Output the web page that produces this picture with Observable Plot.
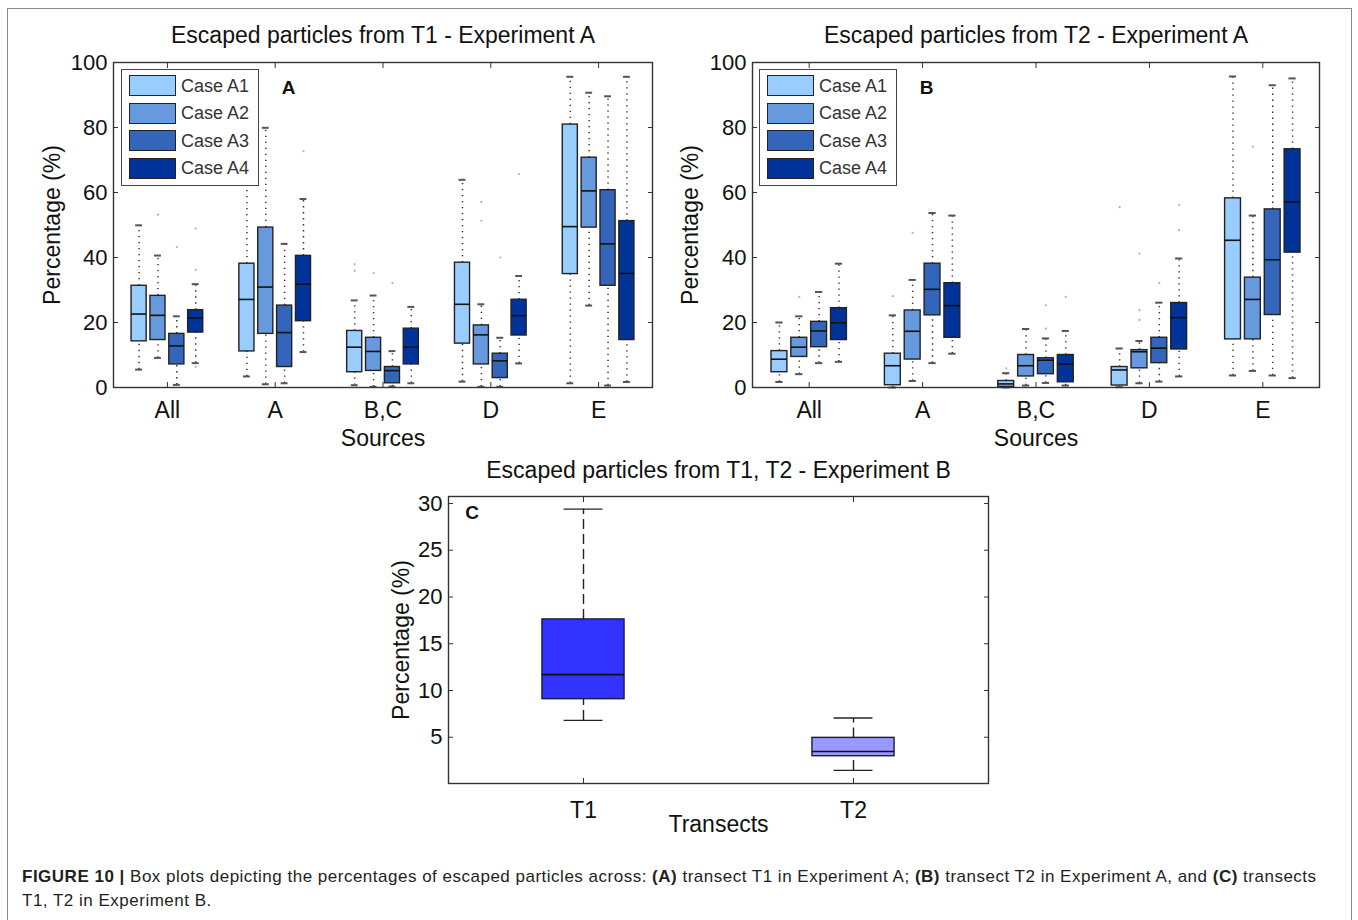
<!DOCTYPE html>
<html>
<head>
<meta charset="utf-8">
<script src="https://cdn.jsdelivr.net/npm/d3@7"></script>
<script src="https://cdn.jsdelivr.net/npm/@observablehq/plot@0.6"></script>
<style>
  body { margin: 0; background: #fff; }
  #page { position: relative; width: 1358px; height: 920px; overflow: hidden;
          font-family: "Liberation Sans", Arial, Helvetica, sans-serif; color: #111; }
  .panel { position: absolute; }
  .title { position: absolute; font-size: 23px; line-height: 23px; white-space: nowrap; transform: translate(-50%, -50%); }
  .letter { position: absolute; font-size: 19px; line-height: 19px; font-weight: bold; transform: translate(-50%, -50%); }
  .legend { position: absolute; box-sizing: border-box; width: 138px; height: 117px; border: 1.5px solid #444; background: #fff; }
  .legend .sw { position: absolute; left: 7px; width: 47px; height: 21px; box-sizing: border-box; border: 1.4px solid #222; }
  .legend .lb { position: absolute; left: 59px; font-size: 18px; line-height: 21px; color: #333; white-space: nowrap; }
  #border { position: absolute; left: 7px; top: 8px; width: 1343px; height: 1000px; border: 1px solid #8a8a8a; }
  #caption { position: absolute; left: 22px; top: 865px; width: 1330px; font-size: 17px; letter-spacing: 0.5px; line-height: 24px; color: #231f20; white-space: nowrap; }
</style>
</head>
<body>
<div id="page">
  <div id="border"></div>
  <div id="panelA" class="panel" style="left:0px; top:50px;"></div>
  <div id="panelB" class="panel" style="left:700px; top:50px;"></div>
  <div id="panelC" class="panel" style="left:380px; top:450px;"></div>
</div>
<script>
// ---------- categories ----------
const groups = ["All", "A", "B,C", "D", "E"];
const cases = ["Case A1", "Case A2", "Case A3", "Case A4"];
const caseColors = ["#99ccff", "#6699dd", "#3366bb", "#003399"];
const yTicksAB = [0, 20, 40, 60, 80, 100];

// ---------- Panel A: escaped particles from T1 (rows = cases, cols = groups) ----------
const t1Low    = [[5.5, 3.4, 0.7, 1.8, 1.3], [9.1, 1.0, 0.2, 0.2, 25.2], [0.8, 1.3, 0.3, 0.2, 0.6], [7.5, 10.9, 1.3, 7.4, 1.7]];
const t1Q1     = [[14.2, 11.1, 4.7, 13.5, 34.9], [14.6, 16.5, 5.1, 7.1, 49.2], [7.1, 6.3, 1.3, 2.9, 31.3], [16.9, 20.4, 7.1, 16.0, 14.6]];
const t1Median = [[22.6, 27.1, 12.4, 25.6, 49.5], [22.2, 30.9, 11.1, 16.2, 60.5], [12.8, 16.9, 5.2, 8.2, 44.2], [21.4, 31.8, 12.4, 22.1, 35.1]];
const t1Q3     = [[31.3, 38.1, 17.4, 38.4, 80.9], [28.2, 49.2, 15.3, 19.1, 70.7], [16.5, 25.2, 6.3, 10.4, 60.7], [23.8, 40.5, 18.1, 27.0, 51.2]];
const t1High   = [[49.9, 70.0, 26.8, 63.9, 95.6], [40.6, 79.9, 28.3, 25.6, 90.7], [21.9, 44.2, 11.2, 15.3, 89.6], [31.8, 58.0, 24.8, 34.3, 95.6]];
const t1Outliers = [
  {group: "All", case: "Case A2", value: 53.2}, {group: "All", case: "Case A3", value: 43.2},
  {group: "All", case: "Case A4", value: 48.9}, {group: "All", case: "Case A4", value: 36.2},
  {group: "All", case: "Case A4", value: 6.4},
  {group: "A", case: "Case A4", value: 72.7},
  {group: "B,C", case: "Case A1", value: 37.9}, {group: "B,C", case: "Case A1", value: 35.9},
  {group: "B,C", case: "Case A2", value: 35.2}, {group: "B,C", case: "Case A3", value: 32.2},
  {group: "D", case: "Case A2", value: 57.1}, {group: "D", case: "Case A2", value: 51.3},
  {group: "D", case: "Case A3", value: 40.0}, {group: "D", case: "Case A4", value: 65.7}
];

// ---------- Panel B: escaped particles from T2 ----------
const t2Low    = [[1.7, 0.0, 0.0, 0.1, 3.7], [4.1, 2.0, 0.6, 1.3, 5.1], [7.5, 7.5, 1.4, 1.8, 3.7], [7.9, 10.4, 0.6, 3.4, 2.9]];
const t2Q1     = [[4.7, 0.7, 0.2, 0.6, 14.8], [9.4, 8.6, 3.4, 5.9, 14.8], [12.4, 22.2, 4.1, 7.5, 22.3], [14.6, 15.3, 1.6, 11.7, 41.5]];
const t2Median = [[8.7, 6.7, 1.1, 5.4, 45.3], [12.4, 17.3, 6.7, 11.0, 27.1], [17.4, 30.2, 8.4, 12.1, 39.3], [19.9, 25.2, 7.2, 21.5, 57.1]];
const t2Q3     = [[11.2, 10.4, 2.0, 6.3, 58.2], [15.3, 23.7, 10.0, 11.5, 33.8], [20.2, 38.1, 9.0, 15.3, 54.8], [24.4, 32.1, 10.0, 26.0, 73.3]];
const t2High   = [[20.0, 22.2, 4.4, 12.0, 95.7], [21.9, 33.1, 18.0, 14.3, 52.9], [29.4, 53.7, 15.1, 26.1, 93.0], [38.1, 52.9, 17.4, 39.7, 95.1]];
const t2Outliers = [
  {group: "All", case: "Case A2", value: 27.9},
  {group: "A", case: "Case A1", value: 28.1}, {group: "A", case: "Case A2", value: 47.6},
  {group: "B,C", case: "Case A1", value: 5.9}, {group: "B,C", case: "Case A3", value: 25.3},
  {group: "B,C", case: "Case A3", value: 18.1}, {group: "B,C", case: "Case A4", value: 27.9},
  {group: "D", case: "Case A1", value: 55.5}, {group: "D", case: "Case A2", value: 41.2},
  {group: "D", case: "Case A2", value: 23.8}, {group: "D", case: "Case A2", value: 20.8},
  {group: "D", case: "Case A3", value: 32.2}, {group: "D", case: "Case A4", value: 56.2},
  {group: "D", case: "Case A4", value: 48.4},
  {group: "E", case: "Case A2", value: 74.1}
];

// ---------- Panel C: T1, T2 in Experiment B ----------
const transects = ["T1", "T2"];
const transectColors = ["#3333ff", "#9999ff"];
const tLow = [6.8, 1.45];
const tQ1 = [9.07, 2.97];
const tMedian = [11.7, 3.48];
const tQ3 = [17.6, 4.93];
const tHigh = [29.4, 7.06];
const yTicksC = [5, 10, 15, 20, 25, 30];

// ---------- helpers ----------
const FONT = '"Liberation Sans", Arial, Helvetica, sans-serif';
const STEP = 0.175, HALF = 0.07, CAP = 0.032;
const slot = (g, c) => groups.indexOf(g) + 1 + (cases.indexOf(c) - 1.5) * STEP;

function buildRows(low, q1, med, q3, high) {
  const rows = [];
  cases.forEach((c, i) => groups.forEach((g, j) => {
    rows.push({case: c, group: g, x: slot(g, c), low: low[i][j], q1: q1[i][j], med: med[i][j], q3: q3[i][j], high: high[i][j]});
  }));
  return rows;
}

function boxPanel(rows, outliers, {width, marginLeft, marginRight, yLabelDx}) {
  const tickOpts = {tickSize: -5, label: null, stroke: "#333"};
  return Plot.plot({
    width, height: 410, marginLeft, marginRight, marginTop: 12, marginBottom: 73,
    x: {type: "linear", domain: [0.5, 5.5]},
    y: {type: "linear", domain: [0, 100]},
    color: {domain: cases, range: caseColors},
    style: {fontFamily: FONT, fontSize: "22px", color: "#111", background: "none", overflow: "visible"},
    marks: [
      Plot.ruleX(rows, {x: "x", y1: "q3", y2: "high", stroke: "#333", strokeWidth: 1.5, strokeDasharray: "1.3,4.7"}),
      Plot.ruleX(rows, {x: "x", y1: "low", y2: "q1", stroke: "#333", strokeWidth: 1.5, strokeDasharray: "1.3,4.7"}),
      Plot.ruleY(rows, {y: "high", x1: d => d.x - CAP, x2: d => d.x + CAP, stroke: "#555", strokeWidth: 2}),
      Plot.ruleY(rows, {y: "low", x1: d => d.x - CAP, x2: d => d.x + CAP, stroke: "#555", strokeWidth: 2}),
      Plot.dot(outliers, {x: d => slot(d.group, d.case), y: "value", r: 1.1, fill: "#b0b0b0", stroke: null}),
      Plot.rect(rows, {x1: d => d.x - HALF, x2: d => d.x + HALF, y1: "q1", y2: "q3", fill: "case", stroke: "#222", strokeWidth: 1.4}),
      Plot.ruleY(rows, {y: "med", x1: d => d.x - HALF, x2: d => d.x + HALF, stroke: "#111", strokeWidth: 1.6}),
      Plot.frame({stroke: "#333", strokeWidth: 1.4}),
      Plot.axisY({anchor: "left", ticks: yTicksAB, tickPadding: 11, ...tickOpts}),
      Plot.axisY({anchor: "right", ticks: yTicksAB, tickFormat: () => "", ...tickOpts}),
      Plot.axisX({anchor: "bottom", ticks: [1, 2, 3, 4, 5], tickFormat: d => groups[d - 1], tickPadding: 19, fontSize: 23, ...tickOpts}),
      Plot.axisX({anchor: "top", ticks: [1, 2, 3, 4, 5], tickFormat: () => "", ...tickOpts}),
      Plot.text(["Percentage (%)"], {text: d => d, frameAnchor: "left", dx: yLabelDx, rotate: -90, textAnchor: "middle", lineAnchor: "middle", fontSize: 23, fill: "#111"}),
      Plot.text(["Sources"], {text: d => d, frameAnchor: "bottom", dy: 51, textAnchor: "middle", lineAnchor: "middle", fontSize: 23, fill: "#111"})
    ]
  });
}

// ---------- panels A and B ----------
document.getElementById("panelA").append(
  boxPanel(buildRows(t1Low, t1Q1, t1Median, t1Q3, t1High), t1Outliers, {width: 660, marginLeft: 113, marginRight: 8, yLabelDx: -61})
);
document.getElementById("panelB").append(
  boxPanel(buildRows(t2Low, t2Q1, t2Median, t2Q3, t2High), t2Outliers, {width: 630, marginLeft: 52, marginRight: 11, yLabelDx: -62})
);

// ---------- panel C ----------
const cRows = transects.map((t, i) => ({transect: t, x: i + 1, low: tLow[i], q1: tQ1[i], med: tMedian[i], q3: tQ3[i], high: tHigh[i]}));
const CHALF = 0.152, CCAP = 0.072;
const cTick = {tickSize: -5, label: null, stroke: "#333"};
document.getElementById("panelC").append(Plot.plot({
  width: 620, height: 400, marginLeft: 68, marginRight: 12, marginTop: 46, marginBottom: 67,
  x: {type: "linear", domain: [0.5, 2.5]},
  y: {type: "linear", domain: [0.05, 30.75]},
  color: {domain: transects, range: transectColors},
  style: {fontFamily: FONT, fontSize: "22px", color: "#111", background: "none", overflow: "visible"},
  marks: [
    Plot.ruleX(cRows, {x: "x", y1: "q3", y2: "high", stroke: "#222", strokeWidth: 1.4, strokeDasharray: "10,5"}),
    Plot.ruleX(cRows, {x: "x", y1: "low", y2: "q1", stroke: "#222", strokeWidth: 1.4, strokeDasharray: "10,5"}),
    Plot.ruleY(cRows, {y: "high", x1: d => d.x - CCAP, x2: d => d.x + CCAP, stroke: "#222", strokeWidth: 1.4}),
    Plot.ruleY(cRows, {y: "low", x1: d => d.x - CCAP, x2: d => d.x + CCAP, stroke: "#222", strokeWidth: 1.4}),
    Plot.rect(cRows, {x1: d => d.x - CHALF, x2: d => d.x + CHALF, y1: "q1", y2: "q3", fill: "transect", stroke: "#1a1a40", strokeWidth: 1.4}),
    Plot.ruleY(cRows, {y: "med", x1: d => d.x - CHALF, x2: d => d.x + CHALF, stroke: "#111", strokeWidth: 1.6}),
    Plot.frame({stroke: "#333", strokeWidth: 1.4}),
    Plot.axisY({anchor: "left", ticks: yTicksC, tickPadding: 11, ...cTick}),
    Plot.axisY({anchor: "right", ticks: yTicksC, tickFormat: () => "", ...cTick}),
    Plot.axisX({anchor: "bottom", ticks: [1, 2], tickFormat: d => transects[d - 1], tickPadding: 23, fontSize: 23, ...cTick}),
    Plot.axisX({anchor: "top", ticks: [1, 2], tickFormat: () => "", ...cTick}),
    Plot.text(["Percentage (%)"], {text: d => d, frameAnchor: "left", dx: -47, rotate: -90, textAnchor: "middle", lineAnchor: "middle", fontSize: 23, fill: "#111"}),
    Plot.text(["Transects"], {text: d => d, frameAnchor: "bottom", dy: 41, textAnchor: "middle", lineAnchor: "middle", fontSize: 23, fill: "#111"})
  ]
}));

// ---------- titles, legends, panel letters, caption ----------
const page = document.getElementById("page");
function addDiv(cls, html, left, top) {
  const d = document.createElement("div");
  d.className = cls;
  d.innerHTML = html;
  d.style.left = left + "px";
  d.style.top = top + "px";
  page.append(d);
  return d;
}
addDiv("title", "Escaped particles from T1 - Experiment A", 383, 35);
addDiv("title", "Escaped particles from T2 - Experiment A", 1036, 35);
addDiv("title", "Escaped particles from T1, T2 - Experiment B", 718.5, 470);

function addLegend(left, top) {
  const lg = addDiv("legend", "", left, top);
  cases.forEach((c, i) => {
    const sw = document.createElement("div");
    sw.className = "sw";
    sw.style.top = (5 + i * 27.5) + "px";
    sw.style.background = caseColors[i];
    const lb = document.createElement("div");
    lb.className = "lb";
    lb.style.top = (5.5 + i * 27.5) + "px";
    lb.textContent = c;
    lg.append(sw, lb);
  });
}
addLegend(121, 69);
addLegend(759, 69);

addDiv("letter", "A", 288.5, 87);
addDiv("letter", "B", 926.5, 87);
addDiv("letter", "C", 472, 512);

const cap = addDiv("", "<b>FIGURE 10 |</b> Box plots depicting the percentages of escaped particles across: <b>(A)</b> transect T1 in Experiment A; <b>(B)</b> transect T2 in Experiment A, and <b>(C)</b> transects<br>T1, T2 in Experiment B.", 22, 865);
cap.id = "caption";
</script>
</body>
</html>
